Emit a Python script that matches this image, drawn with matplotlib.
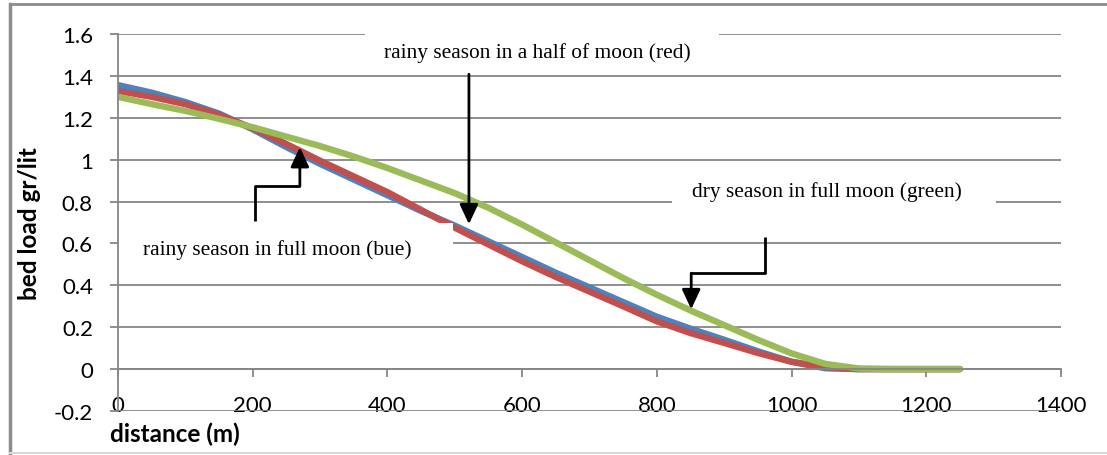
import numpy as np
import matplotlib.pyplot as plt
from matplotlib.patches import Rectangle
from matplotlib.lines import Line2D

# bed load along the distance
distance = [0, 50, 100, 150, 200, 250, 300, 350, 400, 450, 500, 550, 600,
            650, 700, 750, 800, 850, 900, 950, 1000, 1050, 1100, 1150, 1200, 1250]
rainy_full = [1.356, 1.32, 1.275, 1.22, 1.145, 1.06, 0.98, 0.905, 0.83, 0.755,
              0.685, 0.61, 0.535, 0.46, 0.39, 0.32, 0.25, 0.193, 0.14, 0.085,
              0.035, 0.004, 0.0, 0.0, 0.0, 0.0]
rainy_half = [1.328, 1.30, 1.265, 1.215, 1.15, 1.075, 0.995, 0.92, 0.845, 0.76,
              0.675, 0.595, 0.515, 0.44, 0.37, 0.30, 0.228, 0.172, 0.125, 0.077,
              0.035, 0.01, 0.0, 0.0, 0.0, 0.0]
dry_full = [1.30, 1.265, 1.233, 1.195, 1.155, 1.11, 1.065, 1.015, 0.96, 0.90,
            0.84, 0.77, 0.69, 0.605, 0.52, 0.435, 0.355, 0.28, 0.21, 0.14,
            0.075, 0.025, 0.003, 0.0, 0.0, 0.0]

x_ticks = [0, 200, 400, 600, 800, 1000, 1200, 1400]
y_ticks = [-0.2, 0, 0.2, 0.4, 0.6, 0.8, 1.0, 1.2, 1.4, 1.6]
y_tick_labels = ["-0.2", "0", "0.2", "0.4", "0.6", "0.8", "1", "1.2", "1.4", "1.6"]

GRAY = "#868686"
W, H = 1107, 456

fig = plt.figure(figsize=(W / 100, H / 100), dpi=100)
ax = fig.add_axes([118 / W, 1 - 412 / H, 943 / W, 377 / H])

# curves
ax.plot(distance, rainy_full, color="#4F81BD", lw=4.6, solid_capstyle="round",
        solid_joinstyle="round", zorder=2)
ax.plot(distance, rainy_half, color="#C0504D", lw=4.6, solid_capstyle="round",
        solid_joinstyle="round", zorder=2.1)
ax.plot(distance, dry_full, color="#9BBB59", lw=4.6, solid_capstyle="round",
        solid_joinstyle="round", zorder=2.2)

ax.set_xlim(0, 1400)
ax.set_ylim(-0.2, 1.6)
ax.set_xticks(x_ticks)
ax.set_yticks(y_ticks)
ax.set_yticklabels(y_tick_labels)

ax.set_axisbelow(True)
ax.grid(axis="y", color=GRAY, lw=1.3)
ax.grid(axis="x", visible=False)
for side in ["top", "right"]:
    ax.spines[side].set_visible(False)
ax.spines["left"].set_color(GRAY)
ax.spines["left"].set_linewidth(1.3)
ax.spines["bottom"].set_position(("data", 0))
ax.spines["bottom"].set_color(GRAY)
ax.spines["bottom"].set_linewidth(1.3)

ax.tick_params(axis="both", direction="out", length=6, width=1.3, color=GRAY)
ax.tick_params(axis="x", pad=13)
ax.tick_params(axis="y", pad=12)
for lab in ax.get_xticklabels() + ax.get_yticklabels():
    lab.set_fontfamily("Lato")
    lab.set_fontsize(16)

# labels
ax.set_ylabel("bed load gr/lit", fontfamily="Lato", fontweight="bold", fontsize=17.5)
ax.yaxis.set_label_coords(-0.082, 0.5)
fig.text(110 / W, 1 - 434 / H, "distance (m)", ha="left", va="center",
         fontfamily="Lato", fontweight="bold", fontsize=17.5)

# white label boxes (cover grid lines like the original text boxes)
boxes = [(366, 1.433, 527, 0.19), (823, 0.644, 481, 0.311), (2, 0.415, 496, 0.282)]
for bx, by, bw, bh in boxes:
    ax.add_patch(Rectangle((bx, by), bw, bh, facecolor="white", edgecolor="none",
                           zorder=3, clip_on=False))

serif = dict(family="Liberation Serif", size=15.4, zorder=5)
ax.text(622, 1.513, "rainy season in a half of moon (red)", ha="center", va="center", **serif)
ax.text(1053, 0.85, "dry season in full moon (green)", ha="center", va="center", **serif)
ax.text(237, 0.573, "rainy season in full moon (bue)", ha="center", va="center", **serif)

# elbow arrows
arrows = [
    [(203, 0.706), (203, 0.874), (270, 0.874), (270, 1.06)],
    [(521, 1.408), (521, 0.692)],
    [(960, 0.63), (960, 0.458), (851, 0.458), (851, 0.286)],
]
for pts in arrows:
    xs = [p[0] for p in pts[:-1]]
    ys = [p[1] for p in pts[:-1]]
    if len(xs) > 1:
        ax.plot(xs, ys, color="black", lw=2, zorder=4, solid_capstyle="butt")
    ax.annotate("", xy=pts[-1], xytext=pts[-2],
                arrowprops=dict(arrowstyle="-|>,head_length=0.6,head_width=0.28",
                                mutation_scale=20, color="black", lw=2,
                                shrinkA=0, shrinkB=0),
                zorder=4)

# chart border
fig.add_artist(Line2D([10 / W, 10 / W], [1 - 5 / H, 1 - 454 / H], color="#8c8c8c", lw=2.5))
fig.add_artist(Line2D([10 / W, 1], [1 - 5 / H, 1 - 5 / H], color="#8c8c8c", lw=2))
fig.add_artist(Line2D([10 / W, 1], [1 - 454 / H, 1 - 454 / H], color="#d9d9d9", lw=1.5))

fig.savefig("out.png", dpi=100)
